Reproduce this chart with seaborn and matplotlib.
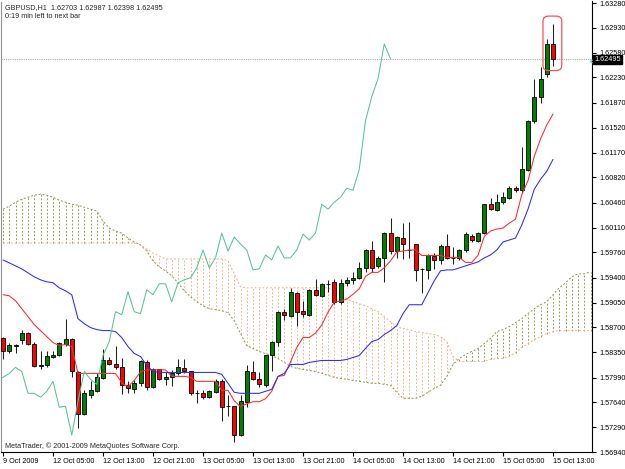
import numpy as np
import pandas as pd
import matplotlib
matplotlib.use("Agg")
import matplotlib.pyplot as plt
import matplotlib.transforms as mtransforms
from matplotlib.patches import FancyBboxPatch
import seaborn as sns

# GBPUSD H1 candles, bar 0 = 9 Oct 2009 ... bar 88 = 15 Oct 13:00
opens = [1.58556, 1.58360, 1.58444, 1.58528, 1.58627, 1.58472, 1.58163, 1.58163, 1.58275, 1.58303,
         1.58472, 1.58542, 1.58064, 1.57474, 1.57741, 1.57797, 1.57980, 1.58233, 1.58177, 1.58135,
         1.57882, 1.57825, 1.57910, 1.58205, 1.57853, 1.58106, 1.57966, 1.57994, 1.58050, 1.58121,
         1.58078, 1.57769, 1.57769, 1.57713, 1.57783, 1.57938, 1.57586, 1.57586, 1.57179, 1.57643,
         1.58064, 1.57966, 1.57882, 1.58303, 1.58500, 1.58922, 1.58866, 1.59189, 1.58936, 1.58880,
         1.59231, 1.59147, 1.59316, 1.59344, 1.59062, 1.59330, 1.59372, 1.59400, 1.59540, 1.59793,
         1.59569, 1.59681, 1.60032, 1.59779, 1.59962, 1.59793, 1.59878, 1.59526, 1.59512, 1.59709,
         1.59653, 1.59850, 1.59681, 1.59681, 1.59793, 1.59990, 1.59920, 1.60032, 1.60440, 1.60356,
         1.60468, 1.60525, 1.60665, 1.60637, 1.60918, 1.61621, 1.61958, 1.62282, 1.62703]
highs = [1.58570, 1.58486, 1.58472, 1.58669, 1.58641, 1.58500, 1.58360, 1.58360, 1.58360, 1.58500,
         1.58823, 1.58556, 1.58078, 1.57811, 1.57938, 1.58050, 1.58388, 1.58275, 1.58444, 1.58261,
         1.57938, 1.57952, 1.58233, 1.58233, 1.58121, 1.58106, 1.58064, 1.58092, 1.58247, 1.58247,
         1.58078, 1.57811, 1.57811, 1.57811, 1.57966, 1.57966, 1.57741, 1.57586, 1.57741, 1.58163,
         1.58219, 1.58064, 1.58303, 1.58514, 1.58936, 1.58964, 1.59259, 1.59203, 1.59076, 1.59245,
         1.59386, 1.59330, 1.59372, 1.59386, 1.59386, 1.59414, 1.59484, 1.59625, 1.59808, 1.59920,
         1.59709, 1.60047, 1.60243, 1.59990, 1.60173, 1.60187, 1.59878, 1.59540, 1.59737, 1.59751,
         1.59878, 1.60018, 1.59836, 1.59808, 1.60047, 1.60018, 1.60047, 1.60440, 1.60525, 1.60581,
         1.60609, 1.60693, 1.60693, 1.61241, 1.61635, 1.62211, 1.62380, 1.62774, 1.62987]
lows = [1.58247, 1.58345, 1.58345, 1.58472, 1.58458, 1.58135, 1.58106, 1.58135, 1.58261, 1.58289,
        1.58444, 1.57994, 1.57277, 1.57460, 1.57699, 1.57783, 1.57966, 1.58163, 1.58106, 1.57755,
        1.57769, 1.57769, 1.57868, 1.57811, 1.57839, 1.57952, 1.57882, 1.57868, 1.58022, 1.58050,
        1.57741, 1.57628, 1.57685, 1.57699, 1.57769, 1.57375, 1.57446, 1.57080, 1.57165, 1.57572,
        1.57952, 1.57853, 1.57853, 1.58078, 1.58444, 1.58809, 1.58852, 1.58725, 1.58852, 1.58866,
        1.59147, 1.59133, 1.59203, 1.59034, 1.59034, 1.59287, 1.59316, 1.59386, 1.59484, 1.59484,
        1.59540, 1.59344, 1.59737, 1.59681, 1.59667, 1.59681, 1.59358, 1.59189, 1.59386, 1.59526,
        1.59597, 1.59667, 1.59597, 1.59653, 1.59765, 1.59906, 1.59906, 1.60018, 1.60356, 1.60342,
        1.60440, 1.60510, 1.60609, 1.60595, 1.60904, 1.61593, 1.61874, 1.62240, 1.62398]
closes = [1.58360, 1.58458, 1.58458, 1.58627, 1.58472, 1.58149, 1.58149, 1.58289, 1.58317, 1.58486,
          1.58542, 1.58078, 1.57474, 1.57769, 1.57811, 1.57994, 1.58233, 1.58177, 1.58135, 1.57882,
          1.57839, 1.57910, 1.58219, 1.57853, 1.58106, 1.57966, 1.57994, 1.58050, 1.58135, 1.58078,
          1.57769, 1.57769, 1.57713, 1.57797, 1.57938, 1.57572, 1.57586, 1.57179, 1.57657, 1.58078,
          1.57966, 1.57896, 1.58303, 1.58500, 1.58922, 1.58880, 1.59203, 1.58922, 1.58894, 1.59231,
          1.59161, 1.59316, 1.59316, 1.59062, 1.59330, 1.59372, 1.59400, 1.59540, 1.59793, 1.59540,
          1.59681, 1.60032, 1.59779, 1.59976, 1.59878, 1.59793, 1.59512, 1.59526, 1.59723, 1.59653,
          1.59850, 1.59681, 1.59681, 1.59793, 1.60018, 1.59934, 1.60032, 1.60440, 1.60370, 1.60468,
          1.60539, 1.60665, 1.60637, 1.60932, 1.61621, 1.61958, 1.62211, 1.62703, 1.62495]

# Ichimoku lines as drawn on the chart
tenkan = [1.59161, 1.59147, 1.59076, 1.58964, 1.58852, 1.58739, 1.58655, 1.58570, 1.58486, 1.58444,
          1.58458, 1.58430, 1.58050, 1.58050, 1.58050, 1.58050, 1.58050, 1.58050, 1.58050, 1.57917,
          1.57861, 1.57952, 1.58072, 1.58100, 1.58100, 1.58100, 1.58100, 1.58008, 1.58008, 1.58008,
          1.57994, 1.57938, 1.57938, 1.57938, 1.57938, 1.57811, 1.57811, 1.57664, 1.57579, 1.57622,
          1.57650, 1.57650, 1.57692, 1.57797, 1.58008, 1.58022, 1.58212, 1.58416, 1.58556, 1.58556,
          1.58620, 1.58732, 1.58915, 1.59056, 1.59070, 1.59100, 1.59168, 1.59246, 1.59421, 1.59477,
          1.59477, 1.59541, 1.59639, 1.59765, 1.59780, 1.59794, 1.59794, 1.59716, 1.59716, 1.59716,
          1.59716, 1.59688, 1.59688, 1.59688, 1.59618, 1.59618, 1.59717, 1.59983, 1.60061, 1.60089,
          1.60103, 1.60173, 1.60229, 1.60574, 1.60771, 1.61115, 1.61361, 1.61558, 1.61714]
kijun = [1.59653, 1.59611, 1.59569, 1.59526, 1.59470, 1.59414, 1.59372, 1.59344, 1.59330, 1.59259,
         1.59217, 1.59161, 1.58823, 1.58753, 1.58697, 1.58669, 1.58655, 1.58655, 1.58641, 1.58556,
         1.58430, 1.58331, 1.58289, 1.58163, 1.58078, 1.58064, 1.58064, 1.58064, 1.58064, 1.58064,
         1.58064, 1.58064, 1.58064, 1.58064, 1.58064, 1.58036, 1.57910, 1.57783, 1.57769, 1.57769,
         1.57769, 1.57769, 1.57797, 1.57825, 1.58008, 1.58050, 1.58177, 1.58177, 1.58177, 1.58205,
         1.58219, 1.58233, 1.58233, 1.58233, 1.58233, 1.58247, 1.58275, 1.58303, 1.58402, 1.58500,
         1.58528, 1.58599, 1.58655, 1.58725, 1.58894, 1.59020, 1.59020, 1.59020, 1.59189, 1.59358,
         1.59498, 1.59512, 1.59512, 1.59540, 1.59569, 1.59597, 1.59625, 1.59681, 1.59723, 1.59793,
         1.59906, 1.59934, 1.59962, 1.60145, 1.60370, 1.60651, 1.60792, 1.60904, 1.61073]
# Senkou spans (already shifted 26 bars ahead), bars 0..94
span_a = [1.60370, 1.60412, 1.60468, 1.60510, 1.60539, 1.60567, 1.60581, 1.60567, 1.60539, 1.60496,
          1.60468, 1.60440, 1.60426, 1.60398, 1.60370, 1.60342, 1.60201, 1.60103, 1.60061, 1.60032,
          1.59962, 1.59906, 1.59864, 1.59779, 1.59639, 1.59555, 1.59498, 1.59428, 1.59330, 1.59217,
          1.59133, 1.59062, 1.59006, 1.58964, 1.58950, 1.58936, 1.58908, 1.58795, 1.58613, 1.58444,
          1.58402, 1.58360, 1.58331, 1.58303, 1.58261, 1.58205, 1.58149, 1.58121, 1.58106, 1.58092,
          1.58078, 1.58050, 1.58022, 1.57994, 1.57980, 1.57966, 1.57952, 1.57938, 1.57924, 1.57910,
          1.57910, 1.57896, 1.57882, 1.57783, 1.57699, 1.57699, 1.57699, 1.57727, 1.57783, 1.57839,
          1.57882, 1.58008, 1.58177, 1.58261, 1.58317, 1.58360, 1.58402, 1.58472, 1.58542, 1.58641,
          1.58669, 1.58711, 1.58767, 1.58823, 1.58894, 1.58964, 1.59020, 1.59062, 1.59161, 1.59259,
          1.59330, 1.59414, 1.59456, 1.59456, 1.59484]
span_b = [1.59892] * 22 + [1.59864, 1.59808, 1.59751, 1.59709] + [1.59667] * 10 + \
         [1.59639, 1.59456, 1.59273] + [1.59259] * 14 + \
         [1.59217, 1.59161, 1.59105, 1.59062, 1.59034, 1.59006, 1.58964, 1.58922, 1.58852, 1.58781,
          1.58711, 1.58683, 1.58669, 1.58641, 1.58627, 1.58613, 1.58599, 1.58570, 1.58500, 1.58289] + \
         [1.58219] * 5 + \
         [1.58247, 1.58261, 1.58261, 1.58289, 1.58345, 1.58416, 1.58472, 1.58528, 1.58570, 1.58613,
          1.58641] + [1.58655] * 6

tick_bars = [0, 8, 16, 24, 32, 40, 48, 56, 64, 72, 80, 88]
tick_labels = ["9 Oct 2009", "12 Oct 05:00", "12 Oct 13:00", "12 Oct 21:00", "13 Oct 05:00",
               "13 Oct 13:00", "13 Oct 21:00", "14 Oct 05:00", "14 Oct 13:00", "14 Oct 21:00",
               "15 Oct 05:00", "15 Oct 13:00"]
price_ticks = [1.63280, 1.62930, 1.62580, 1.62230, 1.61870, 1.61520, 1.61170, 1.60820, 1.60460,
               1.60110, 1.59760, 1.59400, 1.59050, 1.58700, 1.58350, 1.57990, 1.57640, 1.57290,
               1.56940]
shift = 26

sns.set_style("white")
plt.rcParams['font.family'] = ['Liberation Sans', 'DejaVu Sans']
FS = 5.2
OLIVE = "#86964a"
PEACH = "#f3b088"

bars = pd.DataFrame({"open": opens, "high": highs, "low": lows, "close": closes,
                     "tenkan": tenkan, "kijun": kijun})
bars["x"] = np.arange(len(bars))
cloud = pd.DataFrame({"span_a": span_a, "span_b": span_b})
cloud["x"] = np.arange(len(cloud))

fig = plt.figure(figsize=(6.25, 4.69), dpi=100)
ax = fig.add_axes([1 / 625, 17 / 469, 591 / 625, 451 / 469])

# kumo: dotted vertical hatch, coloured by the upper span
a_up = cloud.span_a >= cloud.span_b
ax.vlines(cloud.x, cloud[["span_a", "span_b"]].min(axis=1), cloud[["span_a", "span_b"]].max(axis=1),
          colors=np.where(a_up, OLIVE, PEACH), linestyles=(0, (2, 2)), lw=0.65, zorder=1)
sns.lineplot(data=cloud, x="x", y="span_a", ax=ax, color=OLIVE, lw=0.7, ls=(0, (2, 2)), zorder=1)
sns.lineplot(data=cloud, x="x", y="span_b", ax=ax, color=PEACH, lw=0.7, ls=(0, (2, 2)), zorder=1)

# candles
bull = bars.close > bars.open
bear = bars.close < bars.open
body_col = np.where(bull, "#008000", np.where(bear, "#ff0000", "black"))
ax.vlines(bars.x, bars.low, bars.high, color="#202020", lw=0.75, zorder=3)
ax.bar(bars.x, (bars.close - bars.open).abs(), bottom=bars[["open", "close"]].min(axis=1),
       width=0.64, color=body_col, edgecolor="black", linewidth=0.6, zorder=4)

# tenkan, kijun, chikou
sns.lineplot(data=bars, x="x", y="tenkan", ax=ax, color="#ff2a2a", lw=0.75, zorder=5)
sns.lineplot(data=bars, x="x", y="kijun", ax=ax, color="#2a2aff", lw=0.75, zorder=5)
sns.lineplot(x=bars.x - shift, y=bars.close, ax=ax, color="#56c495", lw=0.75, zorder=5)

# bid line
last = closes[-1]
ax.axhline(last, color="#a8a8a8", lw=0.8, ls=(0, (1, 1)), zorder=2)

ax.set_xlim(-0.32, 94.24)
ax.set_ylim(1.5694, 1.6331)
ax.set_xlabel("")
ax.set_ylabel("")
ax.yaxis.tick_right()
ax.set_yticks(price_ticks)
ax.set_yticklabels([f"{v:.5f}" for v in price_ticks])
ax.set_xticks(tick_bars)
ax.set_xticklabels(tick_labels, ha="left")
ax.tick_params(axis="y", right=True, left=False, length=3, width=0.8, labelsize=FS, pad=2,
               colors="black")
ax.tick_params(axis="x", bottom=True, length=3, width=0.8, labelsize=FS, pad=1.5, colors="black")
ax.spines["top"].set_visible(False)
ax.spines["left"].set_color("#909090")
ax.spines["left"].set_linestyle((0, (1, 1)))
for s in ["right", "bottom"]:
    ax.spines[s].set_color("black")
    ax.spines[s].set_linewidth(0.8)

# price label on the right axis
trans = mtransforms.blended_transform_factory(ax.transAxes, ax.transData)
ax.text(1.004, last - 0.0001, f"{last:.5f}", transform=trans, color="white", fontsize=FS,
        va="center", ha="left", zorder=10, clip_on=False,
        bbox=dict(boxstyle="square,pad=0.15", fc="black", ec="black"))
ax.plot([1.0], [last - 0.0003], marker="<", ms=3.5, mfc="none", mec="#5ac8e8", mew=0.8,
        transform=trans, clip_on=False, zorder=9)

# red rounded frame around the current bar
x0, x1 = len(bars) - 2.6, len(bars) + 0.4
y0, y1 = lows[-1] - 0.0007, highs[-1] + 0.0011
ax.add_patch(FancyBboxPatch((x0, y0), x1 - x0, y1 - y0,
                            boxstyle="round,pad=0,rounding_size=0.9", mutation_aspect=0.00079,
                            fc="none", ec="#ff5050", lw=0.9, zorder=6))

fig.text(5 / 625, 1 - 8 / 469, f"GBPUSD,H1  {opens[-1]:.5f} {highs[-1]:.5f} {lows[-1]:.5f} {closes[-1]:.5f}",
         fontsize=FS, va="center", ha="left")
fig.text(5 / 625, 1 - 16 / 469, "0:19 min left to next bar", fontsize=FS, va="center", ha="left")
fig.text(5 / 625, 1 - 446 / 469, "MetaTrader, \u00a9 2001-2009 MetaQuotes Software Corp.",
         fontsize=FS, va="center", ha="left")

fig.savefig("out.png", dpi=100)
